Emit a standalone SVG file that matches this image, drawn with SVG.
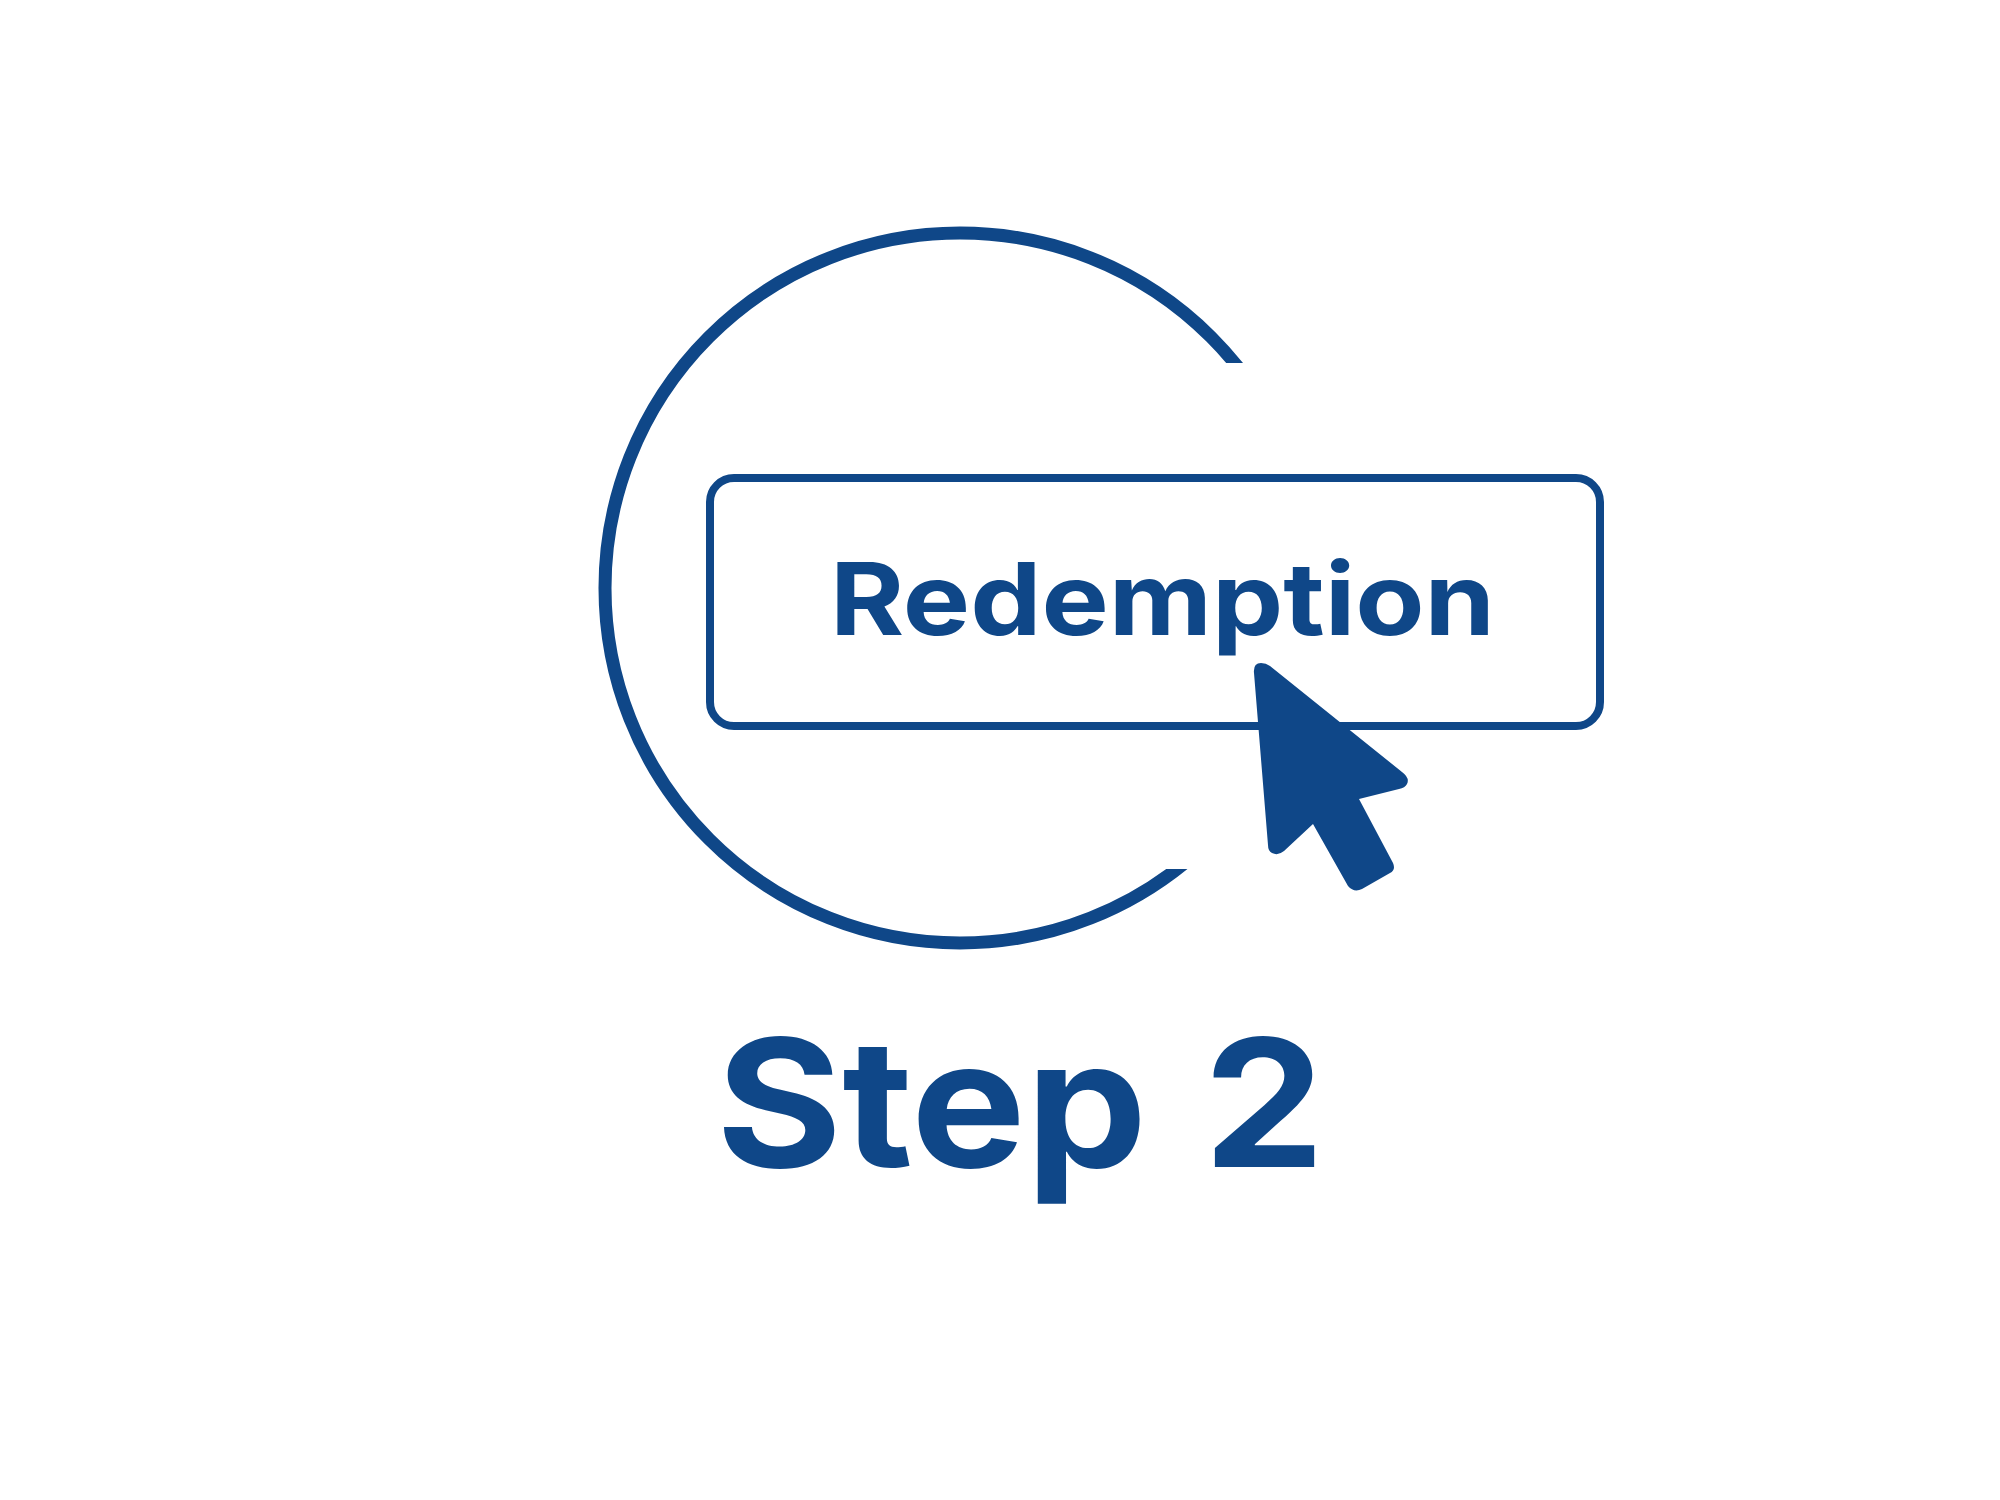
<svg xmlns="http://www.w3.org/2000/svg" width="2000" height="1500" viewBox="0 0 2000 1500">
<style>
.ink{fill:#0f4788}
.line{fill:none;stroke:#0f4788}
.t{font-family:"Inter","Liberation Sans",sans-serif;font-weight:700;fill:#0f4788}
</style>
<defs><clipPath id="gap"><polygon points="0,0 2000,0 2000,363 959,363 959,869 2000,869 2000,1500 0,1500"/></clipPath></defs>
<rect width="2000" height="1500" fill="#fff"/>
<g id="ring"><circle class="line" cx="960" cy="588" r="355" stroke-width="13" clip-path="url(#gap)"/></g>
<g id="button">
<rect class="line" x="710" y="478" width="890" height="248" rx="24" stroke-width="8"/>
<text class="t" x="830" y="635" font-size="100" textLength="665" lengthAdjust="spacingAndGlyphs">Redemption</text>
</g>
<g id="cursor"><path class="ink" d="M1254 673Q1253 663 1261 663Q1266 663 1270 666L1402 772Q1410 778 1407 784Q1405 788 1399 789L1359 799L1393 863Q1396 870 1390 873L1362 889Q1354 893 1348 886L1313 824L1284 851Q1278 856 1272 853Q1268 851 1268 845Z"/></g>
<g id="label"><text class="t" transform="translate(716 1167) scale(1.083 1)" font-size="178">Step <tspan x="450">2</tspan></text></g>
</svg>
